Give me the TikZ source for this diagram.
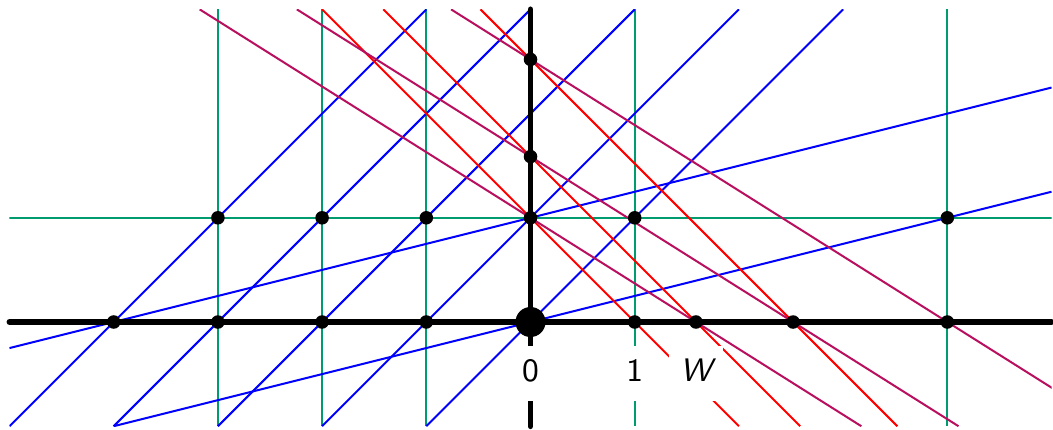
\documentclass[tikz,border=0pt]{standalone}
\usepackage{fontspec}
\definecolor{mygreen}{RGB}{0,155,110}
\definecolor{mypurple}{RGB}{185,15,95}
\begin{document}
\begin{tikzpicture}[x=1cm,y=1cm,
  cline/.style={line width=0.55pt},
  axisline/.style={line width=1.6pt, line cap=round},
  dot/.style={circle, fill=black, inner sep=0pt, minimum size=3.7pt},
  bigdot/.style={circle, fill=black, inner sep=0pt, minimum size=8.2pt},
  lab/.style={fill=white, inner sep=3pt, text height=6.8pt, text depth=2.3pt, anchor=base, font=\fontsize{8.9}{10}\selectfont\sffamily}]
\def\W{1.587401}
\def\WW{2.519842}
\useasboundingbox (-5.091,-1.036) rectangle (5.014,3.09);
\begin{scope}
  \clip (-5,-1) rectangle (5,3);
  % green grid lines
  \foreach \x in {-3,-2,-1,1,4}
    \draw[cline, mygreen] (\x,-1) -- (\x,3);
  \draw[cline, mygreen] (-5,1) -- (5,1);
  % blue lines of slope 1
  \foreach \c in {0,1,2,3,4}
    \draw[cline, blue] ({-1-\c},-1) -- ({3-\c},3);
  % blue shallow lines
  \draw[cline, blue] (-4,-1) -- (5,1.25);
  \draw[cline, blue] (-5,-0.25) -- (5,2.25);
  % red lines y = c - x
  \foreach \c in {1,\W,\WW}
    \draw[cline, red] ({\c-3},3) -- ({\c+1},-1);
  % purple lines y = c - x/W
  \foreach \c in {1,\W,\WW}
    \draw[cline, mypurple] ({(\c-3)*\W},3) -- ({(\c+1)*\W},-1);
\end{scope}
% axes
\coordinate (xl) at (-5,0);
\coordinate (xr) at (5,0);
\coordinate (yb) at (0,-1);
\coordinate (yt) at (0,3);
\draw[axisline] (xl) -- (xr);
\draw[axisline] (yb) -- (yt);
% dots
\node[bigdot] (o) at (0,0) {};
\foreach \x/\n in {-4/a,-3/b,-2/c,-1/d,1/e,\W/w,\WW/ww,4/f}
  \node[dot] (h\n) at (\x,0) {};
\foreach \x/\n in {-3/b,-2/c,-1/d,0/o,1/e,4/f}
  \node[dot] (g\n) at (\x,1) {};
\node[dot] (vw) at (0,\W) {};
\node[dot] (vww) at (0,\WW) {};
% labels
\node[lab] (l0) at (0,-0.571) {0};
\node[lab] (l1) at (1,-0.571) {1};
\node[lab] (lw) at (\W,-0.571) {\itshape W};
\end{tikzpicture}
\end{document}
